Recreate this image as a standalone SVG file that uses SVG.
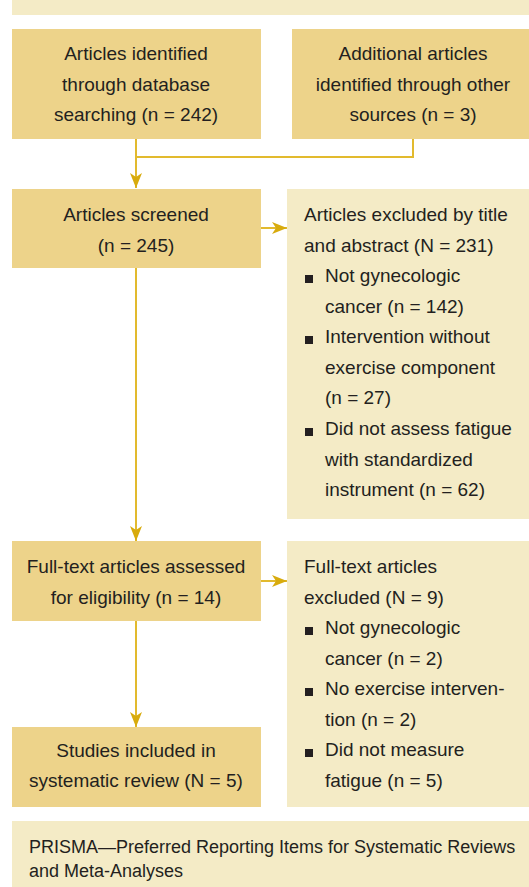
<svg xmlns="http://www.w3.org/2000/svg" width="529" height="887" viewBox="0 0 529 887">
<style>
.dark{fill:#EDD38A}
.light{fill:#F4EBC6}
text{font-family:"Liberation Sans",Arial,sans-serif;font-size:19px;fill:#231F20}
.c{text-anchor:middle}
.cap{font-size:18px}
.bul{fill:#231F20}
.ln{fill:none;stroke:#E2BA2E;stroke-width:2}
</style>
<defs>
<marker id="ah" viewBox="0 0 15 12" refX="15" refY="6" markerWidth="15" markerHeight="12" markerUnits="userSpaceOnUse" orient="auto">
<path d="M0,0 L15,6 L0,12 L4,6 Z" fill="#D8AB0D"/>
</marker>
</defs>
<g id="title">
<rect class="light" x="12" y="-10" width="530" height="25"/>
</g>
<g id="connectors">
<path class="ln" d="M136,139 V188" marker-end="url(#ah)"/>
<path class="ln" d="M136,157 H413 V139"/>
<path class="ln" d="M261,228 H287" marker-end="url(#ah)"/>
<path class="ln" d="M136,268 V541" marker-end="url(#ah)"/>
<path class="ln" d="M261,581 H287" marker-end="url(#ah)"/>
<path class="ln" d="M136,621 V727" marker-end="url(#ah)"/>
</g>
<g id="identified-db">
<rect class="dark" x="12" y="29" width="249" height="110"/>
<text class="c" x="136" y="60">Articles identified</text>
<text class="c" x="136" y="90.5">through database</text>
<text class="c" x="136" y="121">searching (n = 242)</text>
</g>
<g id="identified-other">
<rect class="dark" x="292" y="29" width="245" height="110"/>
<text class="c" x="413" y="60">Additional articles</text>
<text class="c" x="413" y="90.5">identified through other</text>
<text class="c" x="413" y="121">sources (n = 3)</text>
</g>
<g id="screened">
<rect class="dark" x="12" y="189" width="249" height="79"/>
<text class="c" x="136" y="221">Articles screened</text>
<text class="c" x="136" y="251.5">(n = 245)</text>
</g>
<g id="excluded-title">
<rect class="light" x="287" y="189" width="250" height="330"/>
<text x="304" y="221">Articles excluded by title</text>
<text x="304" y="251.5">and abstract (N = 231)</text>
<rect class="bul" x="305" y="275" width="8" height="8"/>
<text x="325" y="282">Not gynecologic</text>
<text x="325" y="312.5">cancer (n = 142)</text>
<rect class="bul" x="305" y="336" width="8" height="8"/>
<text x="325" y="343">Intervention without</text>
<text x="325" y="373.5">exercise component</text>
<text x="325" y="404">(n = 27)</text>
<rect class="bul" x="305" y="428" width="8" height="8"/>
<text x="325" y="435">Did not assess fatigue</text>
<text x="325" y="465.5">with standardized</text>
<text x="325" y="496">instrument (n = 62)</text>
</g>
<g id="fulltext">
<rect class="dark" x="12" y="541" width="249" height="80"/>
<text class="c" x="136" y="573">Full-text articles assessed</text>
<text class="c" x="136" y="604">for eligibility (n = 14)</text>
</g>
<g id="excluded-fulltext">
<rect class="light" x="287" y="541" width="250" height="266"/>
<text x="304" y="573">Full-text articles</text>
<text x="304" y="604">excluded (N = 9)</text>
<rect class="bul" x="305" y="627" width="8" height="8"/>
<text x="325" y="634">Not gynecologic</text>
<text x="325" y="665">cancer (n = 2)</text>
<rect class="bul" x="305" y="688" width="8" height="8"/>
<text x="325" y="695">No exercise interven-</text>
<text x="325" y="726">tion (n = 2)</text>
<rect class="bul" x="305" y="749" width="8" height="8"/>
<text x="325" y="756">Did not measure</text>
<text x="325" y="787">fatigue (n = 5)</text>
</g>
<g id="included">
<rect class="dark" x="12" y="727" width="249" height="80"/>
<text class="c" x="136" y="757">Studies included in</text>
<text class="c" x="136" y="787">systematic review (N = 5)</text>
</g>
<g id="caption">
<rect class="light" x="12" y="821" width="530" height="80"/>
<text class="cap" x="29" y="853">PRISMA—Preferred Reporting Items for Systematic Reviews</text>
<text class="cap" x="29" y="877">and Meta-Analyses</text>
</g>
</svg>
